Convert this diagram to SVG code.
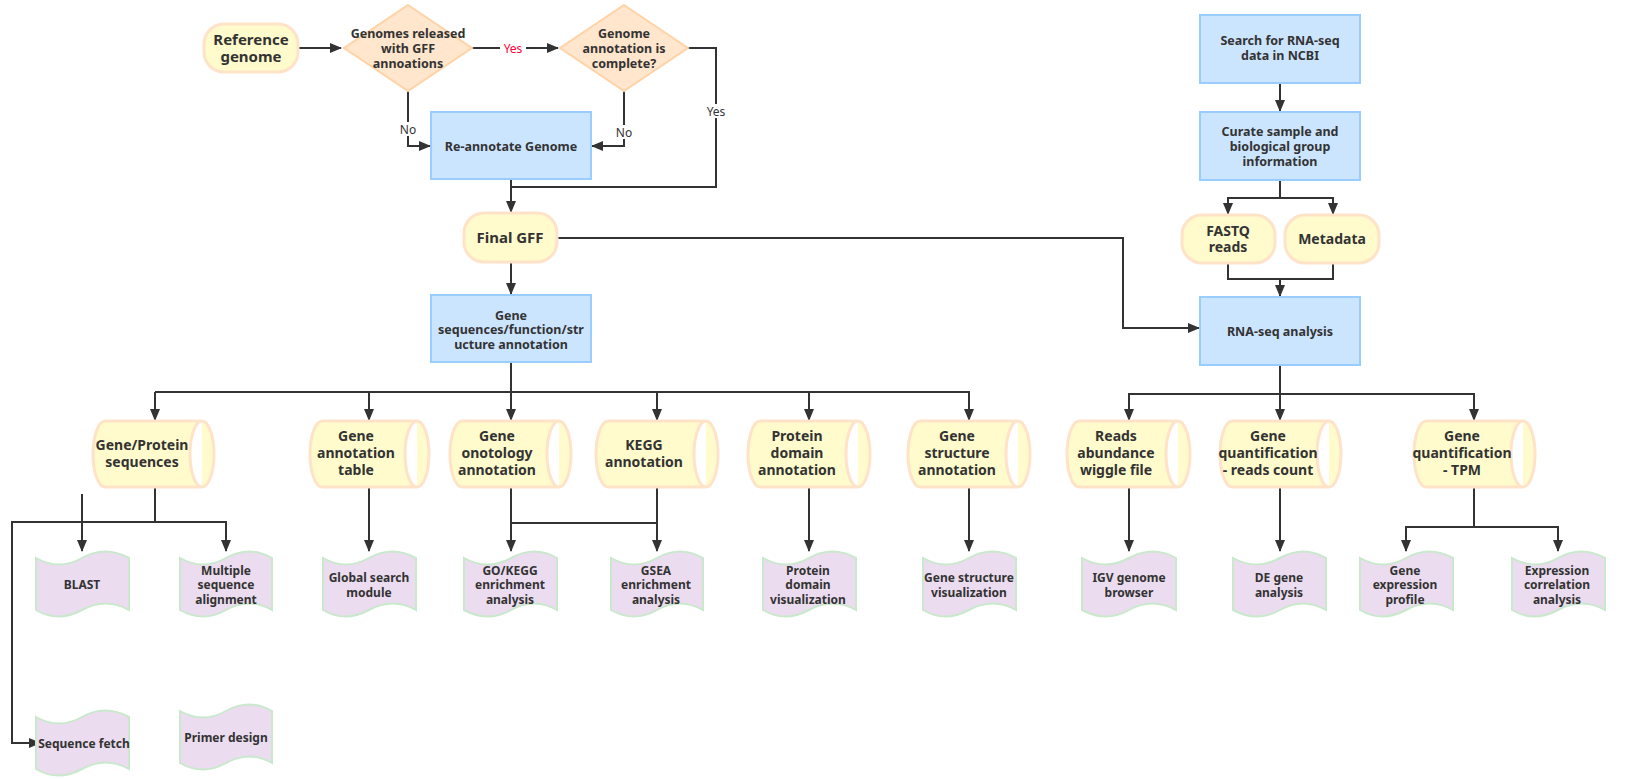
<svg xmlns="http://www.w3.org/2000/svg" width="1638" height="779" viewBox="0 0 1638 779">
<style>
text{font-family:"Noto Sans","Open Sans","Liberation Sans",sans-serif;font-weight:bold;fill:#333;text-anchor:middle}
.cy{fill:#fffbcc;stroke:#ffe3c8;stroke-width:3}
.tm{fill:#fffbcc;stroke:#ffe3c8;stroke-width:3}
.bx{fill:#cce5ff;stroke:#99ccff;stroke-width:2}
.dm{fill:#ffe6cc;stroke:#ffd3a8;stroke-width:2}
.dc{fill:#ecdcf0;stroke:#c9e8cc;stroke-width:2}
.c text{font-size:14px}
.d text{font-size:12px}
.b text{font-size:12.5px}
.ln{fill:none;stroke:#333;stroke-width:2}
.lb{font-weight:normal;font-size:12px}
</style>
<defs>
<marker id="a" markerUnits="userSpaceOnUse" markerWidth="12" markerHeight="12" viewBox="0 0 12 12" refX="11" refY="6" orient="auto"><path d="M0,1 L12,6 L0,11 Z" fill="#333"/></marker>
</defs>
<g id="connectors">
<path class="ln" d="M298,48 H341" marker-end="url(#a)"/>
<path class="ln" d="M472,48 H558" marker-end="url(#a)"/>
<path class="ln" d="M408,91 V146 H430" marker-end="url(#a)"/>
<path class="ln" d="M624,91 V146 H592" marker-end="url(#a)"/>
<path class="ln" d="M688,48 H716 V187 H511"/>
<path class="ln" d="M511,179 V212" marker-end="url(#a)"/>
<path class="ln" d="M511,262 V294" marker-end="url(#a)"/>
<path class="ln" d="M557,238 H1123 V328 H1199" marker-end="url(#a)"/>
<path class="ln" d="M511,362 V392"/>
<path class="ln" d="M155,392 H969 V420" marker-end="url(#a)"/>
<path class="ln" d="M155,392 V420" marker-end="url(#a)"/>
<path class="ln" d="M369,392 V420" marker-end="url(#a)"/>
<path class="ln" d="M511,392 V420" marker-end="url(#a)"/>
<path class="ln" d="M657,392 V420" marker-end="url(#a)"/>
<path class="ln" d="M809,392 V420" marker-end="url(#a)"/>
<path class="ln" d="M155,487 V522 H226 V551" marker-end="url(#a)"/>
<path class="ln" d="M155,522 H12 V743 H40" marker-end="url(#a)"/>
<path class="ln" d="M82,494 V551" marker-end="url(#a)"/>
<path class="ln" d="M369,487 V551" marker-end="url(#a)"/>
<path class="ln" d="M511,487 V551" marker-end="url(#a)"/>
<path class="ln" d="M657,487 V551" marker-end="url(#a)"/>
<path class="ln" d="M511,523 H657"/>
<path class="ln" d="M809,487 V551" marker-end="url(#a)"/>
<path class="ln" d="M969,487 V551" marker-end="url(#a)"/>
<path class="ln" d="M1280,83 V111" marker-end="url(#a)"/>
<path class="ln" d="M1280,180 V198 H1228 V214" marker-end="url(#a)"/>
<path class="ln" d="M1280,198 H1333 V214" marker-end="url(#a)"/>
<path class="ln" d="M1228,263 V279 H1333 V263"/>
<path class="ln" d="M1280,279 V296" marker-end="url(#a)"/>
<path class="ln" d="M1280,365 V394 H1129 V420" marker-end="url(#a)"/>
<path class="ln" d="M1280,394 H1474 V420" marker-end="url(#a)"/>
<path class="ln" d="M1280,394 V420" marker-end="url(#a)"/>
<path class="ln" d="M1129,487 V551" marker-end="url(#a)"/>
<path class="ln" d="M1280,487 V551" marker-end="url(#a)"/>
<path class="ln" d="M1474,487 V527 H1406 V551" marker-end="url(#a)"/>
<path class="ln" d="M1474,527 H1558 V551" marker-end="url(#a)"/>
<rect x="500" y="41" width="26" height="14" fill="#fff"/>
<text class="lb" x="513" y="53" style="fill:#f03">Yes</text>
<rect x="398" y="122" width="20" height="14" fill="#fff"/>
<text class="lb" x="408" y="134">No</text>
<rect x="614" y="125" width="20" height="14" fill="#fff"/>
<text class="lb" x="624" y="137">No</text>
<rect x="704" y="104" width="24" height="14" fill="#fff"/>
<text class="lb" x="716" y="116">Yes</text>
</g>
<g id="reference-genome" class="c"><rect class="tm" x="204" y="24" width="94" height="48" rx="20"/><text x="251" y="45" style="font-size:15px">Reference</text><text x="251" y="62" style="font-size:15px">genome</text></g>
<g id="gff-released" class="b"><path class="dm" d="M408,5 L472,48 L408,91 L344,48 Z"/><text x="408" y="38">Genomes released</text><text x="408" y="53">with GFF</text><text x="408" y="68">annoations</text></g>
<g id="annotation-complete" class="b"><path class="dm" d="M624,5 L688,48 L624,91 L560,48 Z"/><text x="624" y="38">Genome</text><text x="624" y="53">annotation is</text><text x="624" y="68">complete?</text></g>
<g id="reannotate" class="b"><rect class="bx" x="431" y="112" width="160" height="67"/><text x="511" y="151">Re-annotate Genome</text></g>
<g id="final-gff" class="c"><rect class="tm" x="464" y="213" width="93" height="49" rx="20"/><text x="510" y="243" style="font-size:15px">Final GFF</text></g>
<g id="gene-annotation" class="b"><rect class="bx" x="431" y="295" width="160" height="67"/><text x="511" y="320">Gene</text><text x="511" y="334">sequences/function/str</text><text x="511" y="349">ucture annotation</text></g>
<g id="search-rnaseq" class="b"><rect class="bx" x="1200" y="15" width="160" height="68"/><text x="1280" y="45">Search for RNA-seq</text><text x="1280" y="60">data in NCBI</text></g>
<g id="curate" class="b"><rect class="bx" x="1200" y="112" width="160" height="68"/><text x="1280" y="136">Curate sample and</text><text x="1280" y="151">biological group</text><text x="1280" y="166">information</text></g>
<g id="fastq" class="c"><rect class="tm" x="1182" y="215" width="93" height="48" rx="20"/><text x="1228" y="236">FASTQ</text><text x="1228" y="252">reads</text></g>
<g id="metadata" class="c"><rect class="tm" x="1285" y="215" width="94" height="48" rx="20"/><text x="1332" y="244">Metadata</text></g>
<g id="rnaseq-analysis" class="b"><rect class="bx" x="1200" y="297" width="160" height="68"/><text x="1280" y="336">RNA-seq analysis</text></g>

<g id="cyl-gene-protein" class="c"><path class="cy" d="M105,421 H202 A12,33 0 0 1 202,487 H105 A12,33 0 0 1 105,421 Z M202,421 A12,33 0 0 0 202,487"/><text x="142" y="450">Gene/Protein</text><text x="142" y="467">sequences</text></g>
<g id="cyl-annotation-table" class="c"><path class="cy" d="M322,421 H417 A12,33 0 0 1 417,487 H322 A12,33 0 0 1 322,421 Z M417,421 A12,33 0 0 0 417,487"/><text x="356" y="441">Gene</text><text x="356" y="458">annotation</text><text x="356" y="475">table</text></g>
<g id="cyl-go" class="c"><path class="cy" d="M462,421 H559 A12,33 0 0 1 559,487 H462 A12,33 0 0 1 462,421 Z M559,421 A12,33 0 0 0 559,487"/><text x="497" y="441">Gene</text><text x="497" y="458">onotology</text><text x="497" y="475">annotation</text></g>
<g id="cyl-kegg" class="c"><path class="cy" d="M608,421 H706 A12,33 0 0 1 706,487 H608 A12,33 0 0 1 608,421 Z M706,421 A12,33 0 0 0 706,487"/><text x="644" y="450">KEGG</text><text x="644" y="467">annotation</text></g>
<g id="cyl-protein-domain" class="c"><path class="cy" d="M760,421 H858 A12,33 0 0 1 858,487 H760 A12,33 0 0 1 760,421 Z M858,421 A12,33 0 0 0 858,487"/><text x="797" y="441">Protein</text><text x="797" y="458">domain</text><text x="797" y="475">annotation</text></g>
<g id="cyl-gene-structure" class="c"><path class="cy" d="M920,421 H1018 A12,33 0 0 1 1018,487 H920 A12,33 0 0 1 920,421 Z M1018,421 A12,33 0 0 0 1018,487"/><text x="957" y="441">Gene</text><text x="957" y="458">structure</text><text x="957" y="475">annotation</text></g>
<g id="cyl-wiggle" class="c"><path class="cy" d="M1079,421 H1178 A12,33 0 0 1 1178,487 H1079 A12,33 0 0 1 1079,421 Z M1178,421 A12,33 0 0 0 1178,487"/><text x="1116" y="441">Reads</text><text x="1116" y="458">abundance</text><text x="1116" y="475">wiggle file</text></g>
<g id="cyl-reads-count" class="c"><path class="cy" d="M1232,421 H1329 A12,33 0 0 1 1329,487 H1232 A12,33 0 0 1 1232,421 Z M1329,421 A12,33 0 0 0 1329,487"/><text x="1268" y="441">Gene</text><text x="1268" y="458">quantification</text><text x="1268" y="475">- reads count</text></g>
<g id="cyl-tpm" class="c"><path class="cy" d="M1426,421 H1523 A12,33 0 0 1 1523,487 H1426 A12,33 0 0 1 1426,421 Z M1523,421 A12,33 0 0 0 1523,487"/><text x="1462" y="441">Gene</text><text x="1462" y="458">quantification</text><text x="1462" y="475">- TPM</text></g>

<g id="doc-blast" class="d"><path class="dc" d="M36,558 Q59,571 82,558 T129,558 V610 Q106,597 82,610 T36,610 Z"/><text x="82" y="589">BLAST</text></g>
<g id="doc-msa" class="d"><path class="dc" d="M180,558 Q203,571 226,558 T272,558 V610 Q249,597 226,610 T180,610 Z"/><text x="226" y="575">Multiple</text><text x="226" y="589">sequence</text><text x="226" y="604">alignment</text></g>
<g id="doc-global" class="d"><path class="dc" d="M323,558 Q346,571 369,558 T416,558 V610 Q393,597 369,610 T323,610 Z"/><text x="369" y="582">Global search</text><text x="369" y="597">module</text></g>
<g id="doc-gokegg" class="d"><path class="dc" d="M464,558 Q487,571 511,558 T557,558 V610 Q534,597 511,610 T464,610 Z"/><text x="510" y="575">GO/KEGG</text><text x="510" y="589">enrichment</text><text x="510" y="604">analysis</text></g>
<g id="doc-gsea" class="d"><path class="dc" d="M611,558 Q634,571 657,558 T703,558 V610 Q680,597 657,610 T611,610 Z"/><text x="656" y="575">GSEA</text><text x="656" y="589">enrichment</text><text x="656" y="604">analysis</text></g>
<g id="doc-protein-vis" class="d"><path class="dc" d="M763,558 Q786,571 809,558 T856,558 V610 Q833,597 809,610 T763,610 Z"/><text x="808" y="575">Protein</text><text x="808" y="589">domain</text><text x="808" y="604">visualization</text></g>
<g id="doc-structure-vis" class="d"><path class="dc" d="M923,558 Q946,571 969,558 T1016,558 V610 Q993,597 969,610 T923,610 Z"/><text x="969" y="582">Gene structure</text><text x="969" y="597">visualization</text></g>
<g id="doc-igv" class="d"><path class="dc" d="M1082,558 Q1105,571 1129,558 T1176,558 V610 Q1152,597 1129,610 T1082,610 Z"/><text x="1129" y="582">IGV genome</text><text x="1129" y="597">browser</text></g>
<g id="doc-de" class="d"><path class="dc" d="M1233,558 Q1256,571 1280,558 T1326,558 V610 Q1303,597 1280,610 T1233,610 Z"/><text x="1279" y="582">DE gene</text><text x="1279" y="597">analysis</text></g>
<g id="doc-profile" class="d"><path class="dc" d="M1360,558 Q1383,571 1406,558 T1453,558 V610 Q1430,597 1406,610 T1360,610 Z"/><text x="1405" y="575">Gene</text><text x="1405" y="589">expression</text><text x="1405" y="604">profile</text></g>
<g id="doc-correlation" class="d"><path class="dc" d="M1512,558 Q1535,571 1558,558 T1605,558 V610 Q1582,597 1558,610 T1512,610 Z"/><text x="1557" y="575">Expression</text><text x="1557" y="589">correlation</text><text x="1557" y="604">analysis</text></g>
<g id="doc-seqfetch" class="d"><path class="dc" d="M36,717 Q59,730 82,717 T129,717 V769 Q106,756 82,769 T36,769 Z"/><text x="84" y="748">Sequence fetch</text></g>
<g id="doc-primer" class="d"><path class="dc" d="M180,711 Q203,724 226,711 T272,711 V763 Q249,750 226,763 T180,763 Z"/><text x="226" y="742">Primer design</text></g>
</svg>
